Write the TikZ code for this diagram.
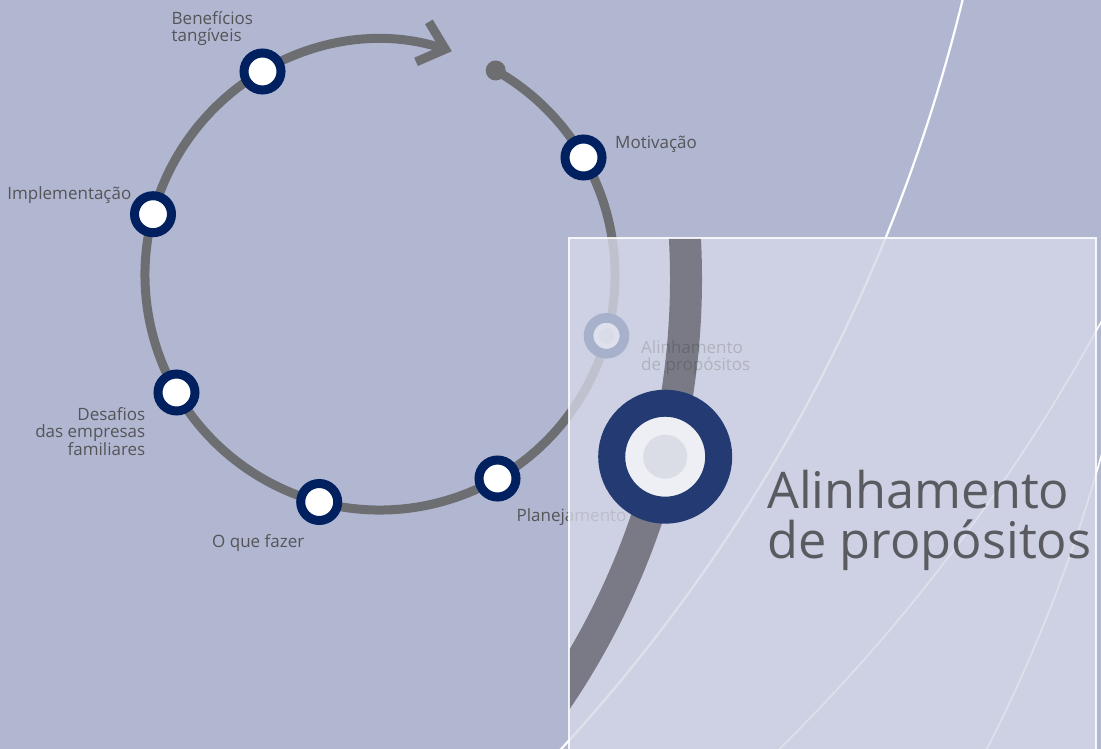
\documentclass[tikz,border=0pt]{standalone}
\usepackage{fontspec}
\setmainfont{Open Sans}
\usetikzlibrary{arrows.meta}
\definecolor{bgblue}{RGB}{177,183,209}
\definecolor{ringgray}{RGB}{109,110,113}
\definecolor{navy}{RGB}{0,32,96}
\definecolor{labelgray}{RGB}{84,85,88}
\definecolor{bignavy}{RGB}{35,59,114}
\definecolor{bigwhite}{RGB}{238,239,245}
\definecolor{bigcore}{RGB}{218,221,230}
\definecolor{smallcore}{RGB}{230,230,233}
\definecolor{panelfill}{RGB}{214,217,232}
\definecolor{zoomgray}{RGB}{150,150,150}
\definecolor{bigtext}{RGB}{90,91,96}

\tikzset{
  stopnode/.style={circle, draw=navy, line width=9pt, fill=white, minimum size=37pt, inner sep=0pt},
  lbl/.style={text=labelgray, font=\fontsize{17}{16.8}\selectfont, inner sep=0pt},
  ringline/.style={draw=ringgray, line width=9pt},
  whiteline/.style={draw=white, line width=2.2pt},
  thinline/.style={draw=white, line width=1.6pt},
}

\begin{document}
\begin{tikzpicture}[x=1pt, y=1pt]
        \useasboundingbox (0,0) rectangle (1101,-749);
        \fill[bgblue] (0,0) rectangle (1101,-749);
        % White curves
        \draw[whiteline] (-689,403) ++(-12:1700) arc[start angle=-12, end angle=-44, radius=1700pt];
        \draw[thinline] (-512.2,558.6) ++(-27:1838) arc[start angle=-27, end angle=-47, radius=1838pt];
        \draw[thinline] (-415.5,-33.2) ++(-14.5:1574.6) arc[start angle=-14.5, end angle=-28.5, radius=1574.6pt];
        % Cycle
        \coordinate (hub) at (380,-275);
        \coordinate (dotstart) at (495.7,-70.5);
        \fill[ringgray] (dotstart) circle[radius=10pt];
        \draw[ringline, -{Straight Barb[length=24pt, width=42pt]}] (dotstart) arc[start angle=60.5, end angle=-287.8, radius=235pt];
        % Stops
        \node[stopnode] (motivacao) at (583.5,-157.5) {};
        \node[stopnode] (beneficios) at (262.5,-71.5) {};
        \node[stopnode] (implementacao) at (153,-214.2) {};
        \node[stopnode] (desafios) at (176.5,-392.5) {};
        \node[stopnode] (oquefazer) at (319.2,-502) {};
        \node[stopnode] (planejamento) at (497.5,-478.5) {};
        \node[stopnode, line width=9.7pt, minimum size=35.9pt] (alinhamento) at (606.5,-335.8) {};
        \fill[smallcore] (alinhamento.center) circle[radius=7.8pt];
        % Labels
        \node[lbl, anchor=base west, align=left] (benlabel) at (171.5,-41.7) {Benefícios\\tangíveis};
        \node[lbl, anchor=base west] (motlabel) at (615,-148.3) {Motivação};
        \node[lbl, anchor=base east] (implabel) at (131.5,-200) {Implementação};
        \node[lbl, anchor=base east, align=right] (deslabel) at (145.5,-455.7) {Desafios\\das empresas\\familiares};
        \node[lbl, anchor=base west] (oqlabel) at (212,-547.7) {O que fazer};
        \node[lbl, anchor=base west] (planlabel) at (516.5,-521.7) {Planejamento};
        \node[lbl, text=labelgray!40!black, anchor=base west, align=left] (alilabel) at (641,-370) {Alinhamento\\de propósitos};
        % Zoom panel
        \fill[panelfill, opacity=0.79] (569,-238) rectangle (1096,-760);
        \begin{scope}
          \clip (569,-238) rectangle (1096,-760);
          \draw[draw=zoomgray, line width=32pt, blend mode=multiply] (-63,-279) ++(10:749) arc[start angle=10, end angle=-40, radius=749pt];
        \end{scope}
        \draw[white, opacity=0.85, line width=2.7pt] (569,-760) -- (569,-238) -- (1096,-238) -- (1096,-760);
        \node[circle, draw=bignavy, line width=27pt, fill=bigwhite, minimum size=107pt, inner sep=0pt] (bigstop) at (665.2,-456.7) {};
        \fill[bigcore] (bigstop.center) circle[radius=22pt];
        \node[text=bigtext, font=\fontsize{50.5}{50}\selectfont, inner sep=0pt, anchor=base west, align=left] (bigname) at (767,-558) {Alinhamento\\de propósitos};
\end{tikzpicture}
\end{document}
